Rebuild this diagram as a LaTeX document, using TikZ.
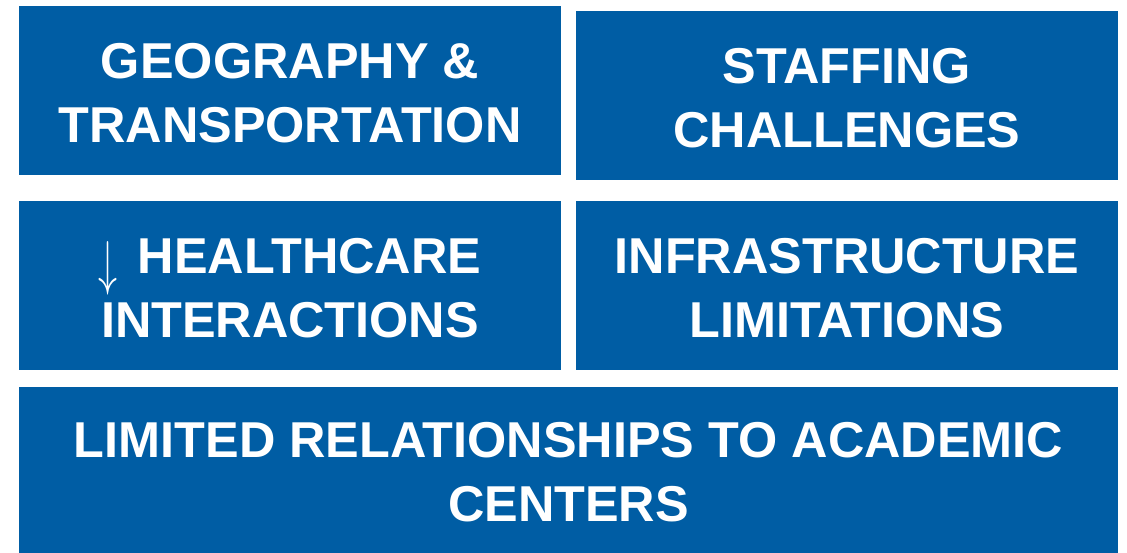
\documentclass[tikz,border=0pt]{standalone}
\usepackage{fontspec}
\setmainfont{Liberation Sans}
\definecolor{boxblue}{RGB}{0,93,164}
\newcommand{\downarr}{\raisebox{-10pt}{\resizebox{19pt}{42pt}{$\downarrow$}}}
\begin{document}
\begin{tikzpicture}[x=1pt,y=-1pt]
			\tikzset{blockbox/.style={fill=boxblue,inner sep=0pt,
				minimum width=542pt,minimum height=169pt},
				blocktext/.style={text=white,inner sep=0pt,align=center,yshift=-2.5pt,
				font=\fontsize{50.4}{64}\selectfont\bfseries}}
			\useasboundingbox (0,0) rectangle (1127,553);
			\node [blockbox,label={[blocktext]center:GEOGRAPHY \&\\TRANSPORTATION}] (geo) at (290,90.5) {};
			\node [blockbox,label={[blocktext]center:STAFFING\\CHALLENGES}] (staff) at (847,95.5) {};
			\node [blockbox,label={[blocktext]center:\downarr\hspace{20pt}HEALTHCARE\\INTERACTIONS}] (care) at (290,285.5) {};
			\node [blockbox,label={[blocktext]center:INFRASTRUCTURE\\LIMITATIONS}] (infra) at (847,285.5) {};
			\node [blockbox,minimum width=1099pt,minimum height=166pt,
				label={[blocktext]center:LIMITED RELATIONSHIPS TO ACADEMIC\\CENTERS}] (acad) at (568.5,470) {};
		\end{tikzpicture}
\end{document}
